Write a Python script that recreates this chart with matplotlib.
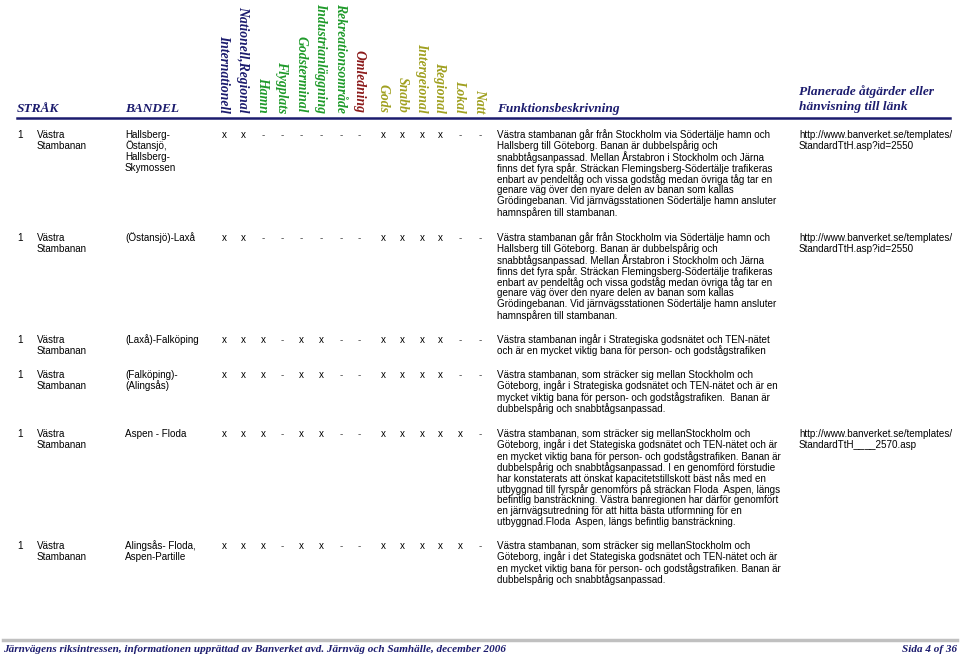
import matplotlib
matplotlib.use("Agg")
import matplotlib.pyplot as plt

# column headers (rotated), grouped by colour
col_labels = ["Internationell", "Nationell,Regional", "Hamn", "Flygplats", "Godsterminal",
              "Industrianläggning", "Rekreationsområde", "Omledning", "Gods", "Snabb",
              "Intergeional", "Regional", "Lokal", "Natt"]
col_colors = ["#1c1c6e"] * 2 + ["#1f9a2a"] * 5 + ["#8b1a1a"] + ["#a0a020"] * 6

strak_nr = ["1", "1", "1", "1", "1", "1"]
strak_namn = ["Västra\nStambanan"] * 6
bandel = ["Hallsberg-\nÖstansjö,\nHallsberg-\nSkymossen",
          "(Östansjö)-Laxå",
          "(Laxå)-Falköping",
          "(Falköping)-\n(Alingsås)",
          "Aspen - Floda",
          "Alingsås- Floda,\nAspen-Partille"]

marks = ["x x - - - - - - x x x x - -",
         "x x - - - - - - x x x x - -",
         "x x x - x x - - x x x x - -",
         "x x x - x x - - x x x x - -",
         "x x x - x x - - x x x x x -",
         "x x x - x x - - x x x x x -"]

desc_sodertalje = ["Västra stambanan går från Stockholm via Södertälje hamn och",
                   "Hallsberg till Göteborg. Banan är dubbelspårig och",
                   "snabbtågsanpassad. Mellan Årstabron i Stockholm och Järna",
                   "finns det fyra spår. Sträckan Flemingsberg-Södertälje trafikeras",
                   "enbart av pendeltåg och vissa godståg medan övriga tåg tar en",
                   "genare väg över den nyare delen av banan som kallas",
                   "Grödingebanan. Vid järnvägsstationen Södertälje hamn ansluter",
                   "hamnspåren till stambanan."]
desc_ten = ["Västra stambanan ingår i Strategiska godsnätet och TEN-nätet",
            "och är en mycket viktig bana för person- och godstågstrafiken"]
desc_falkoping = ["Västra stambanan, som sträcker sig mellan Stockholm och",
                  "Göteborg, ingår i Strategiska godsnätet och TEN-nätet och är en",
                  "mycket viktig bana för person- och godstågstrafiken.  Banan är",
                  "dubbelspårig och snabbtågsanpassad."]
desc_floda = ["Västra stambanan, som sträcker sig mellanStockholm och",
              "Göteborg, ingår i det Stategiska godsnätet och TEN-nätet och är",
              "en mycket viktig bana för person- och godstågstrafiken. Banan är",
              "dubbelspårig och snabbtågsanpassad. I en genomförd förstudie",
              "har konstaterats att önskat kapacitetstillskott bäst nås med en",
              "utbyggnad till fyrspår genomförs på sträckan Floda  Aspen, längs",
              "befintlig bansträckning. Västra banregionen har därför genomfört",
              "en järnvägsutredning för att hitta bästa utformning för en",
              "utbyggnad.Floda  Aspen, längs befintlig bansträckning."]
desc_partille = ["Västra stambanan, som sträcker sig mellanStockholm och",
                 "Göteborg, ingår i det Stategiska godsnätet och TEN-nätet och är",
                 "en mycket viktig bana för person- och godstågstrafiken. Banan är",
                 "dubbelspårig och snabbtågsanpassad."]
descriptions = [desc_sodertalje, desc_sodertalje, desc_ten, desc_falkoping, desc_floda, desc_partille]

links = ["http://www.banverket.se/templates/\nStandardTtH.asp?id=2550",
         "http://www.banverket.se/templates/\nStandardTtH.asp?id=2550",
         "", "",
         "http://www.banverket.se/templates/\nStandardTtH____2570.asp",
         ""]

footer_left = "Järnvägens riksintressen, informationen upprättad av Banverket avd. Järnväg och Samhälle, december 2006"
footer_right = "Sida 4 of 36"

# layout (pixels)
row_y = [135, 238, 340, 375, 434, 546]
col_x = [224, 243, 263, 282, 301, 321, 341, 359, 383, 402, 422, 440, 460, 480]
line_h = 11.05
navy = "#1c1c6e"

fig = plt.figure(figsize=(9.6, 6.59), dpi=100)
ax = fig.add_axes([0, 0, 1, 1])
ax.set_xlim(0, 960)
ax.set_ylim(659, 0)
ax.axis("off")

hdr = dict(family="Liberation Serif", weight="bold", style="italic", color=navy,
           fontsize=9.6, va="baseline")
ax.text(17, 112, "STRÅK", **hdr)
ax.text(125, 112, "BANDEL", **hdr)
ax.text(497, 112, "Funktionsbeskrivning", **hdr)
ax.text(799, 95, "Planerade åtgärder eller", **hdr)
ax.text(799, 110, "hänvisning till länk", **hdr)

for x, lab, c in zip(col_x, col_labels, col_colors):
    ax.text(x, 113, lab, rotation=270, ha="center", va="bottom", family="Liberation Serif",
            weight="bold", style="italic", color=c, fontsize=9.8)

ax.plot([17, 950], [118, 118], color=navy, lw=1.8)

body = dict(family="Liberation Sans", fontsize=7.1, color="black", va="center")
for i, y in enumerate(row_y):
    ax.text(17, y, strak_nr[i], **body)
    for j, s in enumerate(strak_namn[i].split("\n")):
        ax.text(37, y + j * line_h, s, **body)
    for j, s in enumerate(bandel[i].split("\n")):
        ax.text(125, y + j * line_h, s, **body)
    for x, m in zip(col_x, marks[i].split()):
        ax.text(x, y, m, ha="center", **dict(body, color="#444444" if m == "-" else "black"))
    for j, s in enumerate(descriptions[i]):
        ax.text(497, y + j * line_h, s, **body)
    if links[i]:
        for j, s in enumerate(links[i].split("\n")):
            ax.text(799, y + j * line_h, s, **body)

ax.plot([3, 957], [640, 640], color="#c0c0c0", lw=2.5)
foot = dict(family="Liberation Serif", weight="bold", style="italic", color=navy, fontsize=8, va="center")
ax.text(3, 650, footer_left, ha="left", **foot)
ax.text(957, 650, footer_right, ha="right", **foot)

fig.savefig("out.png", dpi=100)
